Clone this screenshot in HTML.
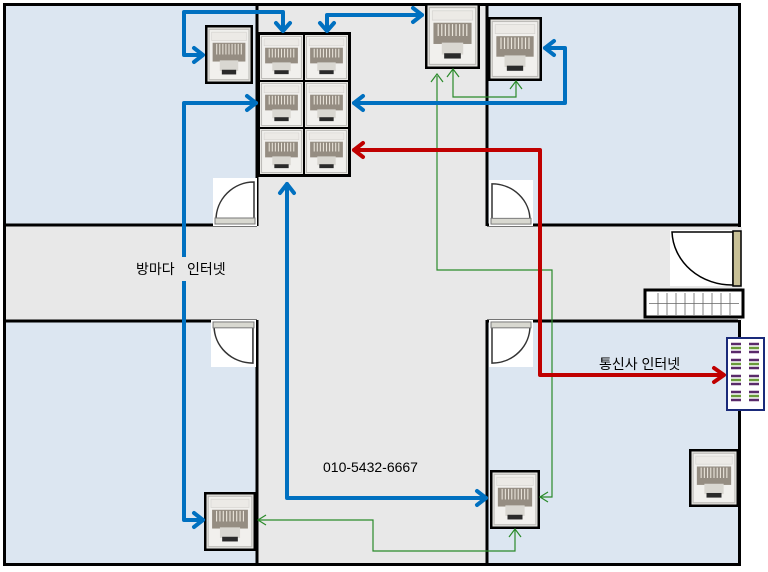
<!DOCTYPE html>
<html><head><meta charset="utf-8"><style>
html,body{margin:0;padding:0;background:#fff;}
svg{display:block;}
text{font-family:"Liberation Sans","Noto Sans CJK KR",sans-serif;}
</style></head><body>
<svg width="768" height="572" viewBox="0 0 768 572" xmlns="http://www.w3.org/2000/svg">
<defs>
<symbol id="jk" viewBox="0 0 42 46" preserveAspectRatio="none">
<rect x="0" y="0" width="42" height="46" fill="#e9e8e4"/>
<rect x="1.5" y="1.5" width="39" height="43" fill="#f1f0ed" stroke="#bdbcb8" stroke-width="1"/>
<rect x="4" y="4" width="34" height="7" fill="#eceae6" stroke="#d6d4d0" stroke-width="0.6"/>
<rect x="5" y="13" width="32" height="16" fill="#958d82"/>
<path d="M9 14v9M12 14v9M15 14v9M18 14v9M21 14v9M24 14v9M27 14v9M30 14v9M33 14v9" stroke="#ebe6dc" stroke-width="1"/>
<rect x="12" y="28" width="18" height="9" fill="#d9d7d1"/>
<rect x="14" y="36" width="14" height="4" fill="#2a2a2a"/>
</symbol>
<symbol id="door" viewBox="0 0 44 48" preserveAspectRatio="none">
<rect x="0" y="0" width="44" height="48" fill="#fff"/>
<path d="M3 42 A38 38 0 0 1 41 4 L41 42" fill="#fff" stroke="#333" stroke-width="1.5"/>
<rect x="2" y="40" width="40" height="6" fill="#d8d8d0" stroke="#777" stroke-width="1"/>
</symbol>
</defs>

<rect x="4" y="4" width="736" height="561" fill="#dce6f1"/>
<rect x="257" y="4" width="230" height="561" fill="#e8e8e8"/>
<rect x="4" y="225" width="736" height="96" fill="#e8e8e8"/>

<g stroke="#000" stroke-width="3" fill="none">
<rect x="4.5" y="4.5" width="735" height="560"/>
<line x1="257" y1="4" x2="257" y2="226"/>
<line x1="487" y1="4" x2="487" y2="226"/>
<line x1="257" y1="320" x2="257" y2="565"/>
<line x1="487" y1="320" x2="487" y2="565"/>
<line x1="4" y1="225" x2="257" y2="225"/>
<line x1="487" y1="225" x2="740" y2="225"/>
<line x1="4" y1="321" x2="257" y2="321"/>
<line x1="487" y1="321" x2="740" y2="321"/>
</g>
<rect x="738" y="227" width="4" height="93" fill="#e8e8e8"/>

<use href="#door" x="213" y="178" width="44" height="48"/>
<use href="#door" x="489" y="180" width="44" height="46" transform="translate(1022,0) scale(-1,1)"/>
<g transform="translate(0,689) scale(1,-1)"><use href="#door" x="211" y="322" width="45" height="47"/></g>
<g transform="translate(1022,689) scale(-1,-1)"><use href="#door" x="489" y="322" width="44" height="47"/></g>
<rect x="670" y="230" width="70" height="56" fill="#fff"/>
<path d="M672 232 A60 55 0 0 0 733 285 L733 232 Z" fill="#fff" stroke="#000" stroke-width="1.5"/>
<rect x="733" y="231" width="8" height="55" fill="#c8c096" stroke="#000" stroke-width="1.5"/>
<rect x="645" y="290" width="98" height="27" fill="#fff" stroke="#000" stroke-width="3"/>
<g stroke="#666" stroke-width="0.8">
<line x1="649" y1="303.5" x2="739" y2="303.5"/>
<path d="M658 293v22M667 293v22M676 293v22M685 293v22M694 293v22M703 293v22M712 293v22M721 293v22M730 293v22"/>
</g>
<rect x="727" y="338" width="37" height="72" fill="#fff" stroke="#1a2a7a" stroke-width="2"/>
<g stroke-width="2.5">
<path d="M731 344h10M731 352h10M731 360h10M731 368h10M731 376h10M731 384h10M731 392h10M731 400h10M749 344h10M749 352h10M749 360h10M749 368h10M749 376h10M749 384h10M749 392h10M749 400h10" stroke="#5a2a6a"/>
<path d="M731 348h10M731 364h10M731 380h10M731 396h10M749 348h10M749 364h10M749 380h10M749 396h10" stroke="#6a9a3a"/>
</g>

<rect x="205" y="25" width="48" height="59" fill="#000"/><use href="#jk" x="207.5" y="27.5" width="43" height="54"/>
<rect x="257" y="32" width="94" height="145" fill="#000"/>
<use href="#jk" x="260" y="35" width="43" height="45"/><use href="#jk" x="305" y="35" width="43" height="45"/>
<use href="#jk" x="260" y="82" width="43" height="45"/><use href="#jk" x="305" y="82" width="43" height="45"/>
<use href="#jk" x="260" y="129" width="43" height="45"/><use href="#jk" x="305" y="129" width="43" height="45"/>
<rect x="425" y="3" width="55" height="66" fill="#000"/><use href="#jk" x="427.5" y="5.5" width="50" height="61"/>
<rect x="488" y="17" width="54" height="64" fill="#000"/><use href="#jk" x="490.5" y="19.5" width="49" height="59"/>
<rect x="204" y="492" width="52" height="59" fill="#000"/><use href="#jk" x="206.5" y="494.5" width="47" height="54"/>
<rect x="490" y="470" width="50" height="59" fill="#000"/><use href="#jk" x="492.5" y="472.5" width="45" height="54"/>
<rect x="689" y="449" width="50" height="58" fill="#000"/><use href="#jk" x="691.5" y="451.5" width="45" height="53"/>

<g stroke="#2a8a2a" stroke-width="1.2" fill="none">
<path d="M437 76 V270 H552 V497 H541"/>
<path d="M431 82 L437 74 L443 82"/>
<path d="M548 492 L540 497 L548 502"/>
<path d="M453 70 V97 H516 V82"/>
<path d="M447 77 L453 69 L459 77"/>
<path d="M510 89 L516 81 L522 89"/>
<path d="M258 520 H373 V551 H515 V530"/>
<path d="M266 515 L258 520 L266 525"/>
<path d="M509 537 L515 529 L521 537"/>
</g>

<g stroke="#0070c0" stroke-width="4" fill="none" stroke-linejoin="round" stroke-linecap="round">
<path d="M283 30 V12 H184 V55 H202"/>
<path d="M276 23 L283 31 L290 23"/>
<path d="M194 48 L203 55 L194 62"/>
<path d="M327 30 V15 H422"/>
<path d="M320 23 L327 31 L334 23"/>
<path d="M413 8 L422 15 L413 22"/>
<path d="M202 520 H184 V103 H256"/>
<path d="M247 96 L256 103 L247 110"/>
<path d="M194 513 L203 520 L194 527"/>
<path d="M354 103 H565 V48 H545"/>
<path d="M363 96 L354 103 L363 110"/>
<path d="M554 41 L545 48 L554 55"/>
<path d="M287 184 V498 H486"/>
<path d="M280 193 L287 184 L294 193"/>
<path d="M477 491 L486 498 L477 505"/>
</g>
<g stroke="#c00000" stroke-width="4" fill="none" stroke-linejoin="round" stroke-linecap="round">
<path d="M354 150 H540 V375 H723"/>
<path d="M363 143 L354 150 L363 157"/>
<path d="M714 368 L724 375 L714 382"/>
</g>

<rect x="180" y="257" width="6" height="24" fill="#e8e8e8"/>
<text x="136" y="274" font-size="14" fill="#000">방마다</text>
<text x="187" y="274" font-size="14" fill="#000">인터넷</text>
<text x="599" y="369" font-size="14" fill="#000">통신사 인터넷</text>
<text x="323" y="472" font-size="14" fill="#000">010-5432-6667</text>
</svg>
</body></html>
